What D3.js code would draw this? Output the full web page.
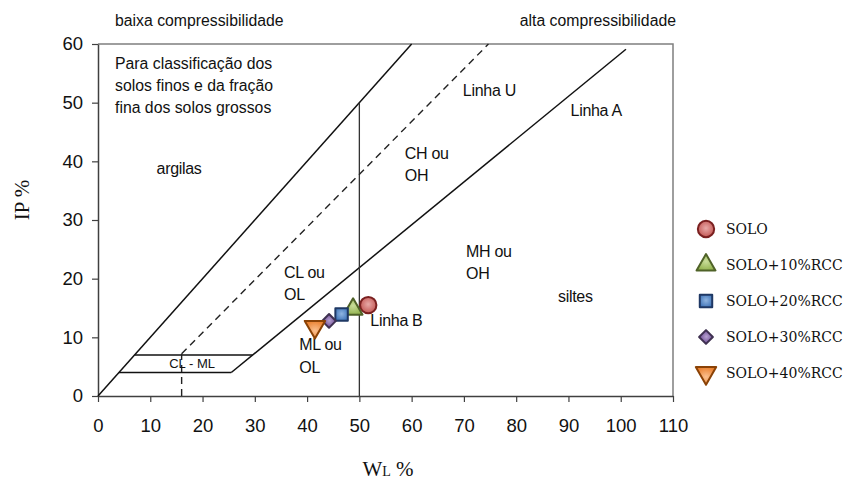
<!DOCTYPE html>
<html><head><meta charset="utf-8">
<script src="https://cdn.jsdelivr.net/npm/d3@7"></script>
<style>
html,body{margin:0;padding:0;background:#fff;}
svg{display:block;}
</style></head>
<body>
<svg id="chart" width="844" height="481"></svg>
<script>
// ---- data ----
const seriesNames = ["SOLO", "SOLO+10%RCC", "SOLO+20%RCC", "SOLO+30%RCC", "SOLO+40%RCC"];
const wlValues = [51.7, 48.8, 46.6, 44.2, 41.5];
const ipValues = [15.5, 14.8, 13.9, 12.8, 11.8];
const xTicks = [0, 10, 20, 30, 40, 50, 60, 70, 80, 90, 100, 110];
const yTicks = [0, 10, 20, 30, 40, 50, 60];
// reference lines of the plasticity chart (WL, IP)
const lineUpper = [[0, 0], [60, 60]];
const lineB = [[50, 0], [50, 50]];
const lineA = [[25.5, 4], [101, 59.1]];
const lineU = [[16, 7.2], [74.7, 60]];
const lineUVert = [[16, 0], [16, 7.2]];
const boxBottom = [[4, 4], [25.5, 4]];
const boxTop = [[7, 7], [29.6, 7]];
const zoneLabels = [
  {t: ["argilas"], wl: 11.2, ip: 38.8},
  {t: ["Linha U"], wl: 69.8, ip: 52.0},
  {t: ["Linha A"], wl: 90.4, ip: 48.6},
  {t: ["CH ou", "OH"], wl: 58.7, ip: 41.4},
  {t: ["MH ou", "OH"], wl: 70.4, ip: 24.7},
  {t: ["CL ou", "OL"], wl: 35.6, ip: 21.1},
  {t: ["siltes"], wl: 88.0, ip: 16.9},
  {t: ["Linha B"], wl: 52.1, ip: 12.8},
  {t: ["ML ou", "OL"], wl: 38.5, ip: 8.7}
];

// ---- layout ----
const svg = d3.select("#chart");
const x = d3.scaleLinear().domain([0, 110]).range([98, 673]);
const y = d3.scaleLinear().domain([0, 60]).range([396, 44]);
const font = "'Liberation Sans', Arial, sans-serif";

const styles = [
  {fill: "#c0504d", light: "#e8a9a7", stroke: "#7a2020", sym: d3.symbolCircle, size: 210, rot: 0},
  {fill: "#8fb04a", light: "#c9dd9a", stroke: "#4f6228", sym: d3.symbolTriangle, size: 155, rot: 0},
  {fill: "#3f74b8", light: "#8fb4e0", stroke: "#1f3864", sym: d3.symbolSquare, size: 155, rot: 0},
  {fill: "#7a5aa0", light: "#b7a2d0", stroke: "#3f3151", sym: d3.symbolSquare, size: 95, rot: 45},
  {fill: "#e97d2a", light: "#fac08f", stroke: "#8a4206", sym: d3.symbolTriangle, size: 180, rot: 180}
];
const defs = svg.append("defs");
styles.forEach((s, i) => {
  const g = defs.append("radialGradient").attr("id", "g" + i)
    .attr("cx", "50%").attr("cy", "45%").attr("r", "60%");
  g.append("stop").attr("offset", "0%").attr("stop-color", s.light);
  g.append("stop").attr("offset", "100%").attr("stop-color", s.fill);
});

// frame (top / right)
svg.append("path")
  .attr("d", `M${x(0)},${y(60)}H${x(110)}V${y(0)}`)
  .attr("fill", "none").attr("stroke", "#7f7f7f").attr("stroke-width", 1.5);

// axes
const xAxis = svg.append("g").attr("transform", `translate(0,${y(0)})`)
  .call(d3.axisBottom(x).tickValues(xTicks).tickSize(6).tickSizeOuter(0).tickPadding(17));
const yAxis = svg.append("g").attr("transform", `translate(${x(0)},0)`)
  .call(d3.axisLeft(y).tickValues(yTicks).tickSize(6).tickSizeOuter(0).tickPadding(9));
[xAxis, yAxis].forEach(a => {
  a.select(".domain").attr("stroke", "#404040").attr("stroke-width", 1.5);
  a.selectAll(".tick line").attr("stroke", "#404040").attr("stroke-width", 1.2);
  a.selectAll("text").attr("font-family", font).attr("font-size", 18.5).attr("fill", "#111");
});

// chart lines
const line = d3.line().x(d => x(d[0])).y(d => y(d[1]));
[lineUpper, lineA, boxBottom, boxTop].forEach(l => {
  svg.append("path").attr("d", line(l)).attr("fill", "none")
    .attr("stroke", "#111").attr("stroke-width", 1.5);
});
svg.append("path").attr("d", line(lineB)).attr("fill", "none")
  .attr("stroke", "#333").attr("stroke-width", 1.3);
[lineU, lineUVert].forEach(l => {
  svg.append("path").attr("d", line(l)).attr("fill", "none")
    .attr("stroke", "#222").attr("stroke-width", 1.4).attr("stroke-dasharray", "7,5");
});

// CL-ML label inside the box
svg.append("text").attr("x", x(18.0)).attr("y", y(5.5) + 4.5)
  .attr("text-anchor", "middle").attr("font-family", font).attr("font-size", 13)
  .attr("fill", "#111").text("CL - ML");

// zone labels
zoneLabels.forEach(l => {
  l.t.forEach((s, k) => {
    svg.append("text").attr("x", x(l.wl)).attr("y", y(l.ip) + 5.5 + k * 22.5)
      .attr("font-family", font).attr("font-size", 16).attr("fill", "#111")
      .attr("letter-spacing", -0.3).text(s);
  });
});

// top texts
svg.append("text").attr("x", 115).attr("y", 26).attr("font-family", font)
  .attr("font-size", 15.8).attr("fill", "#111").text("baixa compressibilidade");
svg.append("text").attr("x", 676).attr("y", 26).attr("text-anchor", "end").attr("font-family", font)
  .attr("font-size", 15.8).attr("fill", "#111").text("alta compressibilidade");
["Para classificação dos", "solos finos e da fração", "fina dos solos grossos"].forEach((s, k) => {
  svg.append("text").attr("x", 115).attr("y", 68.5 + k * 22.3).attr("font-family", font)
    .attr("font-size", 15.8).attr("fill", "#111").text(s);
});

// axis titles
const serif = "'Liberation Serif', 'Times New Roman', serif";
svg.append("text").attr("transform", "translate(29,200) rotate(-90)")
  .attr("text-anchor", "middle").attr("font-family", serif).attr("font-size", 21)
  .attr("fill", "#111").text("IP %");
const xt = svg.append("text").attr("x", 388).attr("y", 476).attr("text-anchor", "middle")
  .attr("font-family", serif).attr("font-size", 21).attr("fill", "#111");
xt.append("tspan").text("W");
xt.append("tspan").attr("font-size", 14).text("L");
xt.append("tspan").text(" %");

// data points
const sym = (i) => d3.symbol().type(styles[i].sym).size(styles[i].size)();
seriesNames.forEach((name, i) => {
  const s = styles[i];
  svg.append("path").attr("d", sym(i))
    .attr("transform", `translate(${x(wlValues[i])},${y(ipValues[i])}) rotate(${s.rot})`)
    .attr("fill", `url(#g${i})`).attr("stroke", s.stroke).attr("stroke-width", 2)
    .attr("stroke-linejoin", "round");
});

// legend
const legendFont = "'DejaVu Serif', serif";
seriesNames.forEach((name, i) => {
  const s = styles[i];
  const cy = 229 + i * 36;
  svg.append("path").attr("d", sym(i))
    .attr("transform", `translate(706,${cy}) rotate(${s.rot})`)
    .attr("fill", `url(#g${i})`).attr("stroke", s.stroke).attr("stroke-width", 2)
    .attr("stroke-linejoin", "round");
  svg.append("text").attr("x", 726).attr("y", cy + 5).attr("font-family", legendFont)
    .attr("font-size", 14).attr("fill", "#111").text(name);
});
</script>
</body></html>
